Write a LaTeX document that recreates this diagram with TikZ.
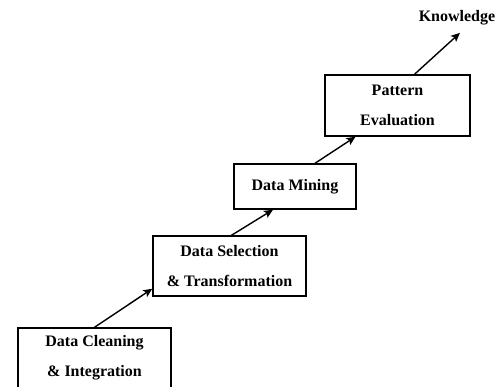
\documentclass[tikz,border=0pt]{standalone}
\usepackage{fontspec}
\setmainfont{Liberation Serif}
\usetikzlibrary{positioning,calc,arrows.meta}

\begin{document}
\begin{tikzpicture}[x=1pt, y=1pt,
                every node/.append style={font=\fontsize{16}{30}\selectfont\bfseries},
                stage/.style={draw, line width=1.4pt, align=center, inner sep=2pt},
                flow/.style={line width=1.4pt, -{Stealth[length=9pt,width=8pt,inset=2pt]}}]
                \useasboundingbox (0,0) rectangle (500,387);
                % the four steps, lowest first
                \node [stage, minimum width=153, minimum height=60] (clean) at (94.5,29) {Data Cleaning\\ \& Integration};
                \node [stage, minimum width=153, minimum height=60] (select) at (229.5,121) {Data Selection\\ \& Transformation};
                \node [stage, minimum width=122, minimum height=45] (mining) at (295,200.5) {Data Mining};
                \node [stage, minimum width=145, minimum height=61] (pattern) at (397.5,281.5) {Pattern\\ Evaluation};
                \node (knowledge) at (457,369) {Knowledge};
                % steps upward
                \draw [flow] (clean.north) -- ($(select.south west)+(0,8)$);
                \draw [flow] ($(select.north)+(2,0)$) -- ($(mining.south)+(-22,0)$);
                \draw [flow] ($(mining.north)+(20,0)$) -- ($(pattern.south)+(-42,0)$);
                \draw [flow] ($(pattern.north)+(17,0)$) -- ($(knowledge.south)+(3,-4)$);
\end{tikzpicture}
\end{document}
